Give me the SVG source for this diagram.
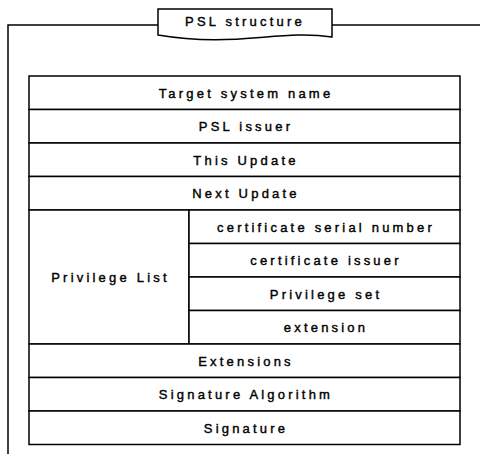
<svg xmlns="http://www.w3.org/2000/svg" width="480" height="454" viewBox="0 0 480 454">
<style>
.ln{fill:none;stroke:#000;stroke-width:1.5}
.bx{fill:#fff;stroke:#000;stroke-width:1.5}
.t{font-family:"Liberation Sans",Arial,sans-serif;font-size:13px;letter-spacing:3.2px;fill:#000;stroke:#000;stroke-width:0.4;text-anchor:middle}
</style>
<rect width="480" height="454" fill="#fff"/>
<g id="frame">
<path class="ln" d="M158,25 H8 V454"/>
<path class="ln" d="M332,25 H480"/>
</g>
<g id="title">
<path class="bx" d="M158,9 H332 V37 C280,29 235,48 158,35 Z"/>
<text class="t" x="245" y="26">PSL structure</text>
</g>
<g id="connectors">
<line class="ln" x1="189" y1="210" x2="189" y2="344"/>
</g>
<g id="target"><rect class="bx" x="29" y="76" width="431" height="33.5"/><text class="t" x="246" y="97.5">Target system name</text></g>
<g id="issuer"><rect class="bx" x="29" y="109.5" width="431" height="33.5"/><text class="t" x="246" y="131">PSL issuer</text></g>
<g id="thisupdate"><rect class="bx" x="29" y="143" width="431" height="33.5"/><text class="t" x="246" y="164.5">This Update</text></g>
<g id="nextupdate"><rect class="bx" x="29" y="176.5" width="431" height="33.5"/><text class="t" x="246" y="198">Next Update</text></g>
<g id="privlist"><rect class="bx" x="29" y="210" width="160" height="134"/><text class="t" x="110.5" y="281.5">Privilege List</text></g>
<g id="serial"><rect class="bx" x="189" y="210" width="271" height="33.5"/><text class="t" x="326" y="231.5">certificate serial number</text></g>
<g id="certissuer"><rect class="bx" x="189" y="243.5" width="271" height="33.5"/><text class="t" x="326" y="265">certificate issuer</text></g>
<g id="privset"><rect class="bx" x="189" y="277" width="271" height="33.5"/><text class="t" x="326" y="298.5">Privilege set</text></g>
<g id="extension"><rect class="bx" x="189" y="310.5" width="271" height="33.5"/><text class="t" x="326" y="332">extension</text></g>
<g id="extensions"><rect class="bx" x="29" y="344" width="431" height="33.5"/><text class="t" x="246" y="365.5">Extensions</text></g>
<g id="sigalg"><rect class="bx" x="29" y="377.5" width="431" height="33.5"/><text class="t" x="246" y="399">Signature Algorithm</text></g>
<g id="signature"><rect class="bx" x="29" y="411" width="431" height="33.5"/><text class="t" x="246" y="432.5">Signature</text></g>
</svg>
